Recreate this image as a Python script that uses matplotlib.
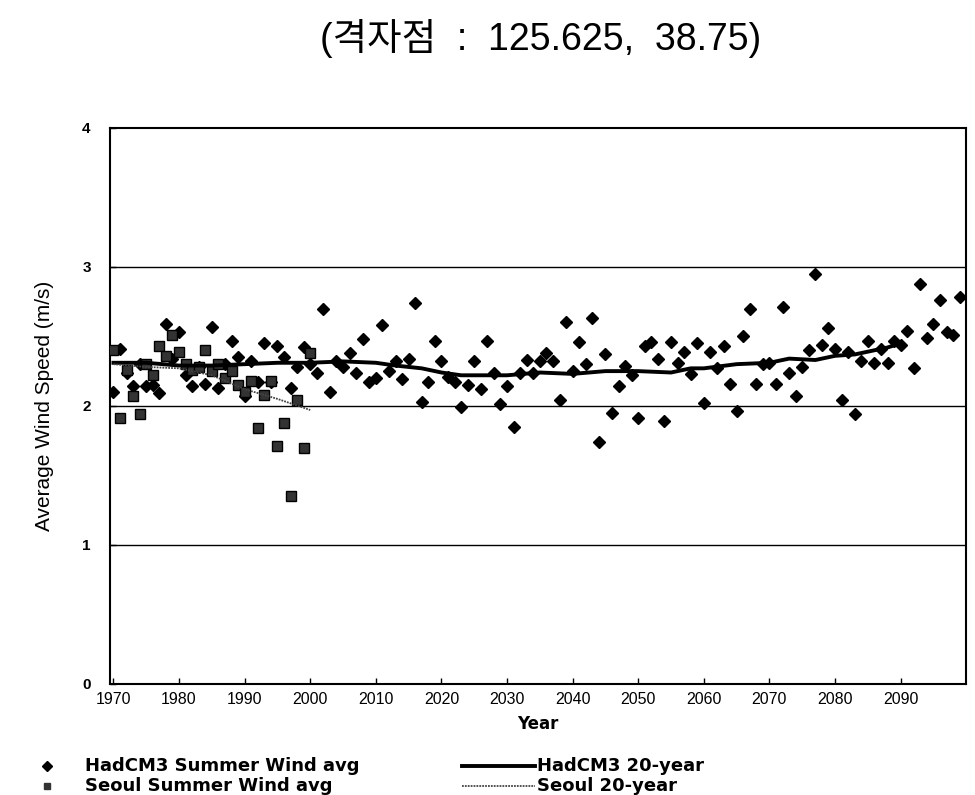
import matplotlib
matplotlib.use("Agg")
import matplotlib.pyplot as plt
from matplotlib.lines import Line2D

# HadCM3 summer wind average, yearly 1970-2099
had_years = list(range(1970, 2100))
had_wind = [
    2.10, 2.41, 2.24, 2.14, 2.30, 2.14, 2.15, 2.09, 2.59, 2.34,
    2.53, 2.22, 2.14, 2.28, 2.16, 2.57, 2.13, 2.30, 2.47, 2.35,
    2.07, 2.32, 2.17, 2.45, 2.17, 2.43, 2.35, 2.13, 2.28, 2.42,
    2.30, 2.24, 2.70, 2.10, 2.32, 2.28, 2.38, 2.24, 2.48, 2.17,
    2.20, 2.58, 2.25, 2.32, 2.19, 2.34, 2.74, 2.03, 2.17, 2.47,
    2.32, 2.21, 2.17, 1.99, 2.15, 2.32, 2.12, 2.47, 2.24, 2.01,
    2.14, 1.85, 2.24, 2.33, 2.24, 2.32, 2.38, 2.32, 2.04, 2.60,
    2.25, 2.46, 2.30, 2.63, 1.74, 2.37, 1.95, 2.14, 2.29, 2.22,
    1.91, 2.43, 2.46, 2.34, 1.89, 2.46, 2.31, 2.39, 2.23, 2.45,
    2.02, 2.39, 2.27, 2.43, 2.16, 1.96, 2.50, 2.70, 2.16, 2.30,
    2.31, 2.16, 2.71, 2.24, 2.07, 2.28, 2.40, 2.95, 2.44, 2.56,
    2.41, 2.04, 2.39, 1.94, 2.32, 2.47, 2.31, 2.41, 2.31, 2.47,
    2.44, 2.54, 2.27, 2.88, 2.49, 2.59, 2.76, 2.53, 2.51, 2.78,
]

# Seoul observed summer wind average 1970-2000
seoul_years = list(range(1970, 2001))
seoul_wind = [
    2.40, 1.91, 2.26, 2.07, 1.94, 2.30, 2.22, 2.43, 2.36, 2.51,
    2.39, 2.30, 2.26, 2.28, 2.40, 2.25, 2.30, 2.20, 2.25, 2.15,
    2.10, 2.18, 1.84, 2.08, 2.18, 1.71, 1.88, 1.35, 2.04, 1.70,
    2.38,
]

# 20-year lines (vertices)
had20_years = [1970, 1975, 1980, 1985, 1990, 1995, 2000, 2005, 2010, 2013,
               2017, 2020, 2023, 2027, 2030, 2035, 2040, 2045, 2050, 2055,
               2058, 2060, 2065, 2070, 2073, 2077, 2080, 2083, 2085, 2088, 2090]
had20_wind = [2.31, 2.31, 2.29, 2.29, 2.30, 2.31, 2.31, 2.32, 2.31, 2.29,
              2.27, 2.24, 2.22, 2.22, 2.22, 2.24, 2.23, 2.25, 2.25, 2.24,
              2.27, 2.27, 2.30, 2.31, 2.34, 2.33, 2.36, 2.37, 2.39, 2.42, 2.45]

seoul20_years = [1970, 1975, 1980, 1985, 1990, 1995, 2000]
seoul20_wind = [2.30, 2.28, 2.27, 2.22, 2.12, 2.05, 1.97]

fig = plt.figure(figsize=(9.75, 7.95), dpi=100)
ax = fig.add_axes([0.113, 0.140, 0.878, 0.699])

ax.plot(had_years, had_wind, linestyle="none", marker="D", markersize=6.5,
        color="black", zorder=3)
ax.plot(seoul_years, seoul_wind, linestyle="none", marker="s", markersize=6.5,
        markerfacecolor="#333333", markeredgecolor="black", zorder=3)
ax.plot(had20_years, had20_wind, color="black", linewidth=2.8, zorder=4)
ax.plot(seoul20_years, seoul20_wind, color="#444444", linewidth=1.3,
        linestyle=(0, (1, 0.6)), zorder=4)

ax.set_xlim(1969.5, 2100)
ax.set_ylim(0, 4)
ax.set_yticks([0, 1, 2, 3, 4])
ax.set_xticks(range(1970, 2100, 10))
for v in [1, 2, 3]:
    ax.axhline(v, color="black", linewidth=1.0, zorder=1)

for s in ax.spines.values():
    s.set_linewidth(1.5)
ax.tick_params(direction="in", length=4, width=1)
ax.tick_params(axis="y", pad=14, labelsize=11)
ax.tick_params(axis="x", pad=6, labelsize=11.5)
for lab in ax.get_yticklabels():
    lab.set_fontfamily("Liberation Sans")
    lab.set_fontweight("bold")
for lab in ax.get_xticklabels():
    lab.set_fontfamily("Liberation Sans")

ax.set_xlabel("Year", fontsize=12, fontweight="bold", family="DejaVu Sans", labelpad=6)
ax.set_ylabel("Average Wind Speed (m/s)", fontsize=15,
              family=["Liberation Sans Narrow", "Liberation Sans"], labelpad=20)

fig.text(0.555, 0.951, "(격자점  :  125.625,  38.75)", ha="center", va="center",
         fontsize=27, family=["Liberation Sans", "Noto Sans CJK KR"])

# legend drawn by hand to mimic the original layout
leg_font = dict(fontsize=13, fontweight="bold", family="DejaVu Sans", va="center")
y1 = 1 - 766 / 795
y2 = 1 - 786 / 795
fig.add_artist(Line2D([47 / 975], [y1], marker="D", markersize=5, color="black",
                      transform=fig.transFigure))
fig.add_artist(Line2D([47 / 975], [y2], marker="s", markersize=5, color="#333333",
                      transform=fig.transFigure))
fig.text(85 / 975, y1, "HadCM3 Summer Wind avg", **leg_font)
fig.text(85 / 975, y2, "Seoul Summer Wind avg", **leg_font)
fig.add_artist(Line2D([462 / 975, 535 / 975], [y1, y1], color="black", linewidth=2.8,
                      transform=fig.transFigure))
fig.add_artist(Line2D([462 / 975, 535 / 975], [y2, y2], color="#444444", linewidth=1.3,
                      linestyle=(0, (1, 0.6)), transform=fig.transFigure))
fig.text(537 / 975, y1, "HadCM3 20-year", **leg_font)
fig.text(537 / 975, y2, "Seoul 20-year", **leg_font)

fig.savefig("out.png", dpi=100)
